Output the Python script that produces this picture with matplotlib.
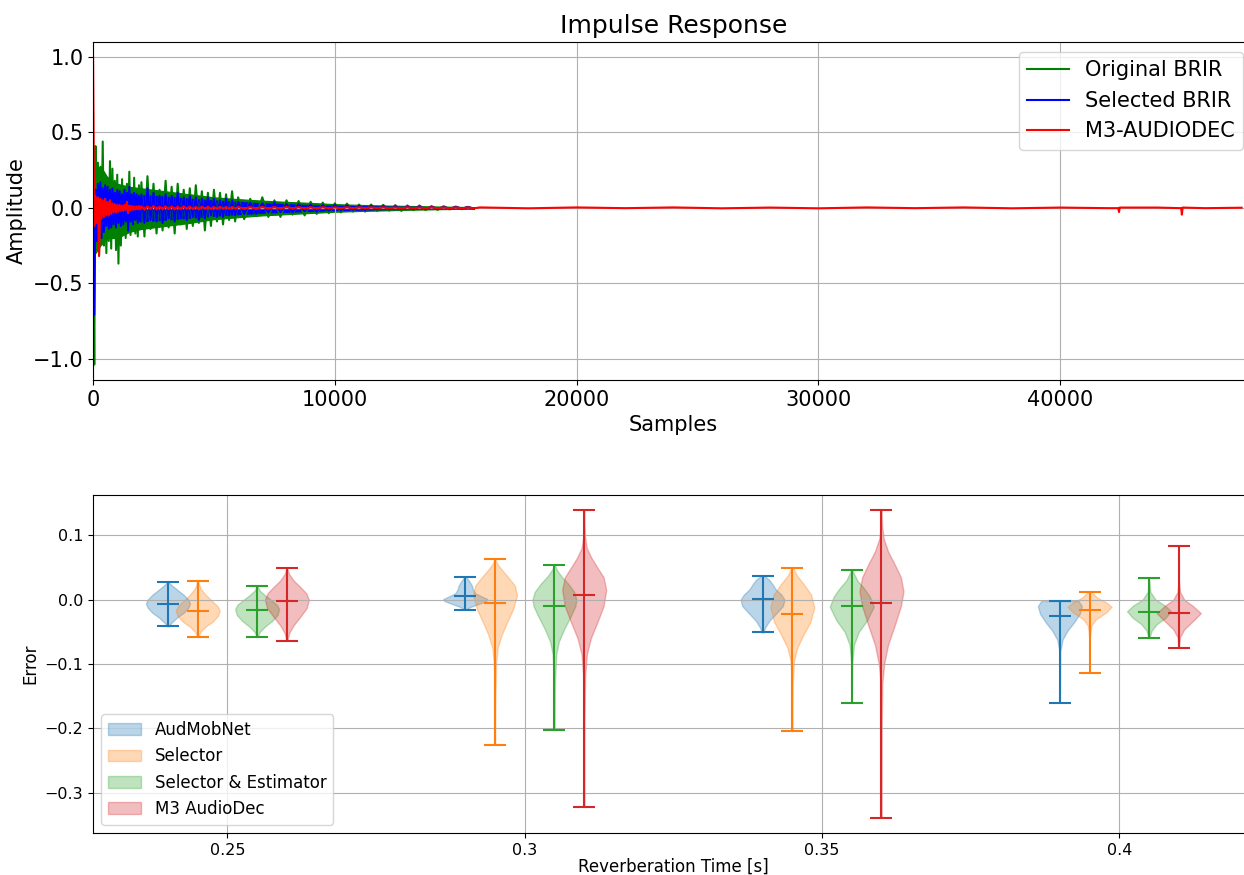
import numpy as np
import matplotlib
matplotlib.use('Agg')
import matplotlib.pyplot as plt

OUT = 'out.png'

# Impulse responses in three segments (start sample, step)
SEG_START = [0, 2000, 6000]
SEG_STEP = [50, 125, 250]

orig_a = [0.0, -1.04, 0.41, -0.28, 0.30, -0.31, 0.22, -0.18, 0.44, -0.25,
          0.20, -0.30, 0.20, -0.22, 0.31, -0.27, 0.26, -0.20, 0.18, -0.28,
          0.22, -0.37, 0.14, -0.25, 0.19, -0.16, 0.12, -0.20, 0.16, -0.12,
          0.24, -0.18, 0.13, -0.15, 0.20, -0.17, 0.11, -0.19, 0.15, -0.13]
orig_b = [0.17, -0.19, 0.21, -0.14, 0.16, -0.17, 0.12, -0.15, 0.18, -0.13,
          0.14, -0.17, 0.16, -0.11, 0.12, -0.14, 0.13, -0.12, 0.15, -0.10,
          0.11, -0.15, 0.10, -0.12, 0.12, -0.09, 0.10, -0.11, 0.09, -0.08,
          0.11, -0.09]
orig_c = [0.07, -0.075, 0.06, -0.055, 0.07, -0.06, 0.05, -0.06, 0.05, -0.045,
          0.045, -0.05, 0.04, -0.04, 0.035, -0.035, 0.03, -0.03, 0.028, -0.025,
          0.022, -0.025, 0.022, -0.02, 0.02, -0.018, 0.018, -0.02, 0.016, -0.015,
          0.016, -0.014, 0.012, -0.013, 0.011, -0.01, 0.009, -0.009, 0.007, -0.006]

sel_a = [0.0, -0.71, 0.12, -0.22, 0.16, -0.15, 0.17, -0.20, 0.13, -0.16,
         0.15, -0.12, 0.14, -0.14, 0.12, -0.13, 0.13, -0.11, 0.10, -0.13,
         0.12, -0.10, 0.11, -0.12, 0.09, -0.11, 0.12, -0.09, 0.10, -0.15,
         0.14, -0.09, 0.09, -0.11, 0.10, -0.08, 0.09, -0.10, 0.08, -0.09]
sel_b = [0.09, -0.10, 0.13, -0.08, 0.10, -0.09, 0.08, -0.10, 0.09, -0.07,
         0.08, -0.09, 0.10, -0.07, 0.07, -0.08, 0.08, -0.06, 0.07, -0.08,
         0.06, -0.07, 0.07, -0.05, 0.06, -0.06, 0.05, -0.06, 0.06, -0.05,
         0.05, -0.05]
sel_c = [0.04, -0.04, 0.035, -0.04, 0.03, -0.03, 0.035, -0.028, 0.026, -0.03,
         0.025, -0.022, 0.022, -0.025, 0.018, -0.02, 0.018, -0.017, 0.016, -0.014,
         0.013, -0.016, 0.012, -0.011, 0.011, -0.01, 0.009, -0.009, 0.008, -0.007,
         0.007, -0.007, 0.006, -0.006, 0.005, -0.005, 0.005, -0.004, 0.004, -0.004]

m3_a = [1.0, -0.12, 0.08, -0.10, 0.07, -0.32, 0.06, -0.07, 0.05, -0.06,
        0.06, -0.05, 0.04, -0.05, 0.05, -0.04, 0.03, -0.03, 0.025, -0.03,
        0.02, -0.025, 0.02, -0.02, 0.015, -0.02, 0.02, -0.015, 0.04, -0.035,
        0.015, -0.015, 0.012, -0.012, 0.01, -0.012, 0.01, -0.01, 0.012, -0.01]
m3_b = [0.01, -0.012, 0.01, -0.008, 0.012, -0.01, 0.008, -0.01, 0.01, -0.008,
        0.009, -0.01, 0.008, -0.009, 0.01, -0.007, 0.008, -0.008, 0.007, -0.009,
        0.008, -0.007, 0.007, -0.008, 0.006, -0.007, 0.007, -0.006, 0.006, -0.007,
        0.006, -0.006]
m3_c = [0.006, -0.006, 0.005, -0.006, 0.006, -0.005, 0.005, -0.005, 0.006, -0.004,
        0.005, -0.005, 0.004, -0.005, 0.005, -0.004, 0.004, -0.004, 0.005, -0.004,
        0.004, -0.004, 0.004, -0.003, 0.004, -0.004, 0.003, -0.004, 0.004, -0.003,
        0.003, -0.003, 0.004, -0.003, 0.003, -0.003, 0.003, -0.003, 0.003, -0.003]
m3_tail_x = [16000, 18000, 20000, 22000, 24000, 26000, 28000, 30000, 32000, 34000,
             36000, 38000, 40000, 42000, 42400, 42430, 42460, 44000, 45000, 45030,
             45060, 46000, 47500]
m3_tail_y = [0.003, -0.003, 0.003, -0.002, 0.003, -0.003, 0.002, -0.003, 0.003, -0.002,
             0.003, -0.003, 0.002, -0.002, -0.002, -0.028, 0.002, 0.002, -0.002, -0.045,
             0.002, -0.002, 0.001]

# dense part of each response (solid band between these bounds)
env_x = [0, 100, 300, 600, 1000, 1500, 2000, 3000, 4000, 5000, 6000, 7000,
         8000, 9000, 10000, 11000, 12000, 13000, 14000, 15000, 15750]
orig_hi = [0.0, 0.25, 0.28, 0.2, 0.16, 0.14, 0.13, 0.11, 0.09, 0.07, 0.058,
           0.048, 0.04, 0.033, 0.025, 0.02, 0.016, 0.013, 0.01, 0.007, 0.005]
orig_lo = [0.0, -0.3, -0.25, -0.2, -0.2, -0.16, -0.14, -0.12, -0.1, -0.075, -0.062,
           -0.05, -0.042, -0.034, -0.026, -0.021, -0.017, -0.013, -0.01, -0.007, -0.005]
sel_hi = [0.0, 0.14, 0.14, 0.12, 0.1, 0.09, 0.085, 0.075, 0.06, 0.05, 0.04,
          0.03, 0.025, 0.018, 0.014, 0.011, 0.009, 0.007, 0.005, 0.004, 0.003]
sel_lo = [0.0, -0.18, -0.16, -0.13, -0.11, -0.1, -0.09, -0.078, -0.065, -0.052, -0.042,
          -0.032, -0.026, -0.02, -0.015, -0.012, -0.009, -0.007, -0.005, -0.004, -0.003]
m3_hi = [0.0, 0.05, 0.05, 0.04, 0.02, 0.012, 0.008, 0.007, 0.006, 0.006, 0.005,
         0.005, 0.004, 0.004, 0.004, 0.003, 0.003, 0.003, 0.003, 0.003, 0.003]
m3_lo = [0.0, -0.06, -0.05, -0.04, -0.02, -0.012, -0.008, -0.007, -0.006, -0.006, -0.005,
         -0.005, -0.004, -0.004, -0.004, -0.003, -0.003, -0.003, -0.003, -0.003, -0.003]

# Reverberation time errors (violins)
rt_times = [0.25, 0.3, 0.35, 0.4]
rt_labels = ['0.25', '0.3', '0.35', '0.4']
methods = ['AudMobNet', 'Selector', 'Selector & Estimator', 'M3 AudioDec']
offsets = [-0.01, -0.005, 0.005, 0.01]

err_min = [[-0.0415, -0.0155, -0.051, -0.1605],
           [-0.058, -0.226, -0.2045, -0.114],
           [-0.058, -0.2025, -0.1605, -0.059],
           [-0.064, -0.3225, -0.339, -0.075]]
err_median = [[-0.0073, 0.005, 0.0005, -0.025],
              [-0.0177, -0.0047, -0.0218, -0.0155],
              [-0.0155, -0.0104, -0.0104, -0.019],
              [-0.0026, 0.0067, -0.0047, -0.0208]]
err_max = [[0.028, 0.0357, 0.037, -0.002],
           [0.029, 0.063, 0.050, 0.0118],
           [0.021, 0.054, 0.0455, 0.034],
           [0.0486, 0.139, 0.139, 0.0838]]

# density outline of each violin: (error values, relative half width)
shapes = [
    [([-0.0415, -0.036, -0.028, -0.02, -0.012, -0.006, 0.0, 0.008, 0.016, 0.023, 0.028],
      [0.03, 0.15, 0.4, 0.72, 0.93, 1.0, 0.93, 0.7, 0.4, 0.15, 0.03]),
     ([-0.0155, -0.011, -0.006, -0.002, 0.001, 0.005, 0.01, 0.016, 0.022, 0.029, 0.0357],
      [0.03, 0.25, 0.65, 0.95, 1.0, 0.75, 0.45, 0.35, 0.3, 0.18, 0.03]),
     ([-0.051, -0.043, -0.033, -0.022, -0.01, 0.0, 0.008, 0.016, 0.024, 0.031, 0.037],
      [0.03, 0.12, 0.3, 0.6, 0.92, 1.0, 0.85, 0.6, 0.45, 0.3, 0.08]),
     ([-0.1605, -0.08, -0.062, -0.048, -0.035, -0.022, -0.01, -0.002],
      [0.0, 0.02, 0.12, 0.35, 0.65, 0.9, 1.0, 0.85])],
    [([-0.058, -0.05, -0.042, -0.034, -0.025, -0.017, -0.01, -0.002, 0.008, 0.018, 0.029],
      [0.02, 0.12, 0.35, 0.68, 0.92, 1.0, 0.9, 0.65, 0.35, 0.12, 0.02]),
     ([-0.226, -0.15, -0.1, -0.075, -0.055, -0.035, -0.015, 0.007, 0.022, 0.035, 0.047,
       0.056, 0.063],
      [0.0, 0.02, 0.05, 0.12, 0.3, 0.55, 0.82, 1.0, 0.9, 0.6, 0.3, 0.1, 0.02]),
     ([-0.2045, -0.13, -0.095, -0.075, -0.055, -0.035, -0.012, 0.008, 0.025, 0.038, 0.05],
      [0.0, 0.02, 0.08, 0.22, 0.5, 0.82, 1.0, 0.85, 0.5, 0.2, 0.03]),
     ([-0.114, -0.06, -0.04, -0.03, -0.02, -0.011, -0.004, 0.003, 0.0118],
      [0.0, 0.01, 0.08, 0.3, 0.75, 1.0, 0.75, 0.35, 0.08])],
    [([-0.058, -0.05, -0.042, -0.033, -0.024, -0.015, -0.008, -0.001, 0.007, 0.014, 0.021],
      [0.02, 0.12, 0.35, 0.68, 0.92, 1.0, 0.9, 0.65, 0.35, 0.12, 0.02]),
     ([-0.2025, -0.13, -0.085, -0.065, -0.045, -0.025, -0.01, 0.0, 0.012, 0.025, 0.037,
       0.047, 0.054],
      [0.0, 0.02, 0.08, 0.2, 0.45, 0.75, 0.95, 1.0, 0.9, 0.62, 0.3, 0.1, 0.02]),
     ([-0.1605, -0.1, -0.07, -0.05, -0.032, -0.011, 0.005, 0.018, 0.03, 0.0455],
      [0.0, 0.02, 0.1, 0.32, 0.7, 1.0, 0.82, 0.55, 0.25, 0.03]),
     ([-0.059, -0.048, -0.038, -0.028, -0.018, -0.009, 0.0, 0.012, 0.034],
      [0.02, 0.12, 0.35, 0.75, 1.0, 0.72, 0.3, 0.06, 0.0])],
    [([-0.064, -0.052, -0.04, -0.027, -0.013, 0.0, 0.01, 0.02, 0.03, 0.04, 0.0486],
      [0.02, 0.1, 0.3, 0.6, 0.9, 1.0, 0.88, 0.6, 0.3, 0.1, 0.02]),
     ([-0.3225, -0.2, -0.12, -0.085, -0.06, -0.035, -0.01, 0.0155, 0.035, 0.05, 0.065,
       0.08, 0.1, 0.139],
      [0.0, 0.01, 0.04, 0.12, 0.3, 0.6, 0.88, 1.0, 0.88, 0.6, 0.33, 0.12, 0.03, 0.0]),
     ([-0.339, -0.2, -0.13, -0.1, -0.07, -0.04, -0.01, 0.013, 0.035, 0.055, 0.075,
       0.095, 0.115, 0.139],
      [0.0, 0.01, 0.04, 0.12, 0.3, 0.6, 0.88, 1.0, 0.88, 0.6, 0.3, 0.1, 0.03, 0.0]),
     ([-0.075, -0.058, -0.046, -0.034, -0.021, -0.01, 0.0, 0.012, 0.03, 0.0838],
      [0.0, 0.06, 0.25, 0.62, 1.0, 0.65, 0.25, 0.06, 0.01, 0.0])],
]
colors = ['C0', 'C1', 'C2', 'C3']


def build(segments, tail_x=(), tail_y=()):
    xs, ys = [], []
    for start, step, vals in zip(SEG_START, SEG_STEP, segments):
        xs.append(start + step * np.arange(len(vals)))
        ys.append(np.asarray(vals, dtype=float))
    xs.append(np.asarray(tail_x, dtype=float))
    ys.append(np.asarray(tail_y, dtype=float))
    return np.concatenate(xs), np.concatenate(ys)


def main():
    fig = plt.figure(figsize=(12.44, 8.75), dpi=100)
    ax1 = fig.add_axes([0.0748, 0.5657, 0.933, 0.3866])
    ax2 = fig.add_axes([0.0748, 0.048, 0.933, 0.3863])

    # Impulse response: solid band + spiky trace for each signal
    series = [
        ([orig_a, orig_b, orig_c], (), (), orig_hi, orig_lo, 'green', 'Original BRIR'),
        ([sel_a, sel_b, sel_c], (), (), sel_hi, sel_lo, 'blue', 'Selected BRIR'),
        ([m3_a, m3_b, m3_c], m3_tail_x, m3_tail_y, m3_hi, m3_lo, 'red', 'M3-AUDIODEC'),
    ]
    for segs, tx, ty, hi, lo, color, label in series:
        ax1.fill_between(env_x, lo, hi, color=color, lw=0.8)
        x, y = build(segs, tx, ty)
        ax1.plot(x, y, color=color, lw=1.5, label=label)
    ax1.set_xlim(0, 48000)
    ax1.set_title('Impulse Response', fontsize=18)
    ax1.set_xlabel('Samples', fontsize=15)
    ax1.set_ylabel('Amplitude', fontsize=15)
    ax1.tick_params(labelsize=15)
    ax1.legend(loc='upper right', fontsize=15)
    ax1.grid()

    # Error violins
    handles = []
    for k in range(len(methods)):
        stats = []
        for j in range(len(rt_times)):
            coords, vals = shapes[k][j]
            stats.append(dict(coords=coords, vals=vals, mean=err_median[k][j],
                              median=err_median[k][j], min=err_min[k][j],
                              max=err_max[k][j]))
        pos = [t + offsets[k] for t in rt_times]
        parts = ax2.violin(stats, positions=pos, widths=0.0074, showmedians=True)
        for b in parts['bodies']:
            b.set_facecolor(colors[k])
            b.set_edgecolor(colors[k])
            b.set_alpha(0.3)
        for key in ['cmins', 'cmaxes', 'cbars', 'cmedians']:
            parts[key].set_color(colors[k])
        handles.append(parts['bodies'][0])

    ax2.set_xticks(rt_times, rt_labels)
    ax2.set_xlim(0.2274, 0.4226)
    ax2.set_xlabel('Reverberation Time [s]', fontsize=12, labelpad=0)
    ax2.set_ylabel('Error', fontsize=12)
    ax2.tick_params(labelsize=11.5)
    ax2.legend(handles, methods, loc='lower left', fontsize=12)
    ax2.grid()

    fig.savefig(OUT, dpi=100)
    plt.close(fig)


if __name__ == '__main__':
    main()
